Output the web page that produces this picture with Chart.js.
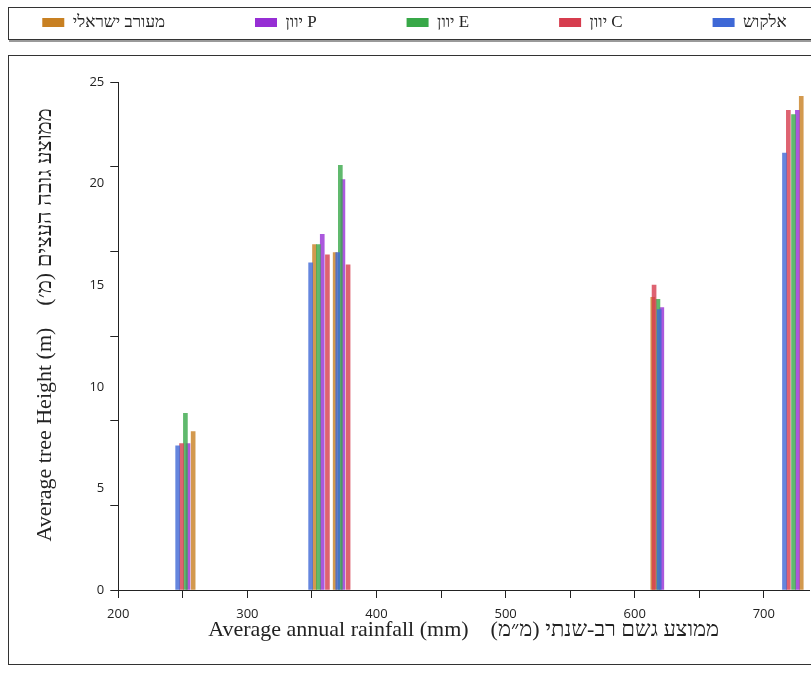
<!DOCTYPE html>
<html>
<head>
<meta charset="utf-8">
<script src="https://cdn.jsdelivr.net/npm/chart.js@4.4.0/dist/chart.umd.min.js"></script>
<style>
    html, body { margin: 0; padding: 0; background: #fff; }
    #wrap { width: 811px; height: 681px; }
</style>
</head>
<body>
<div id="wrap"><canvas id="treeChart" width="811" height="681"></canvas></div>
<script>
// series names, in data order (legend shows them reversed, right to left)
var seriesNames = ["אלקוש", "יוון C", "יוון E", "יוון P", "מעורב ישראלי"];
var seriesColors = ["rgb(62, 104, 214)", "rgb(214, 60, 78)", "rgb(56, 168, 72)", "rgb(150, 46, 212)", "rgb(200, 128, 34)"];

// average annual rainfall (mm) and average tree height (m) per site
var alkoshRain = [246, 349, 370, 619, 716];
var alkoshHeight = [7.1, 16.1, 16.6, 13.8, 21.5];
var greeceCRain = [249, 362, 378, 615, 719];
var greeceCHeight = [7.2, 16.5, 16.0, 15.0, 23.6];
var greeceERain = [252, 355, 372, 618, 723];
var greeceEHeight = [8.7, 17.0, 20.9, 14.3, 23.4];
var greecePRain = [254, 358, 374, 621, 726];
var greecePHeight = [7.2, 17.5, 20.2, 13.9, 23.6];
var mixedRain = [258, 352, 368, 614, 729];
var mixedHeight = [7.8, 17.0, 16.6, 14.4, 24.3];

// axis ticks
var xLabelValues = [200, 300, 400, 500, 600, 700];
var yLabelValues = [0, 5, 10, 15, 20, 25];
var yMarkValues = [0, 25 / 6, 50 / 6, 12.5, 100 / 6, 125 / 6, 25];

var rainSets = [alkoshRain, greeceCRain, greeceERain, greecePRain, mixedRain];
var heightSets = [alkoshHeight, greeceCHeight, greeceEHeight, greecePHeight, mixedHeight];

function near(list, v) {
    return list.some(function (t) { return Math.abs(t - v) < 1e-6; });
}

function withAlpha(rgb, a) {
    return rgb.replace("rgb(", "rgba(").replace(")", ", " + a + ")");
}

var datasets = seriesNames.map(function (name, i) {
    return {
        label: name,
        data: rainSets[i].map(function (x, j) { return { x: x, y: heightSets[i][j] }; }),
        backgroundColor: withAlpha(seriesColors[i], 0.8),
        borderWidth: 0,
        barThickness: 4,
        grouped: false
    };
});

// frames round the legend and the plot, like the printed figure
var frames = {
    id: "frames",
    beforeDraw: function (chart) {
        var ctx = chart.ctx;
        ctx.save();
        ctx.strokeStyle = "#333";
        ctx.lineWidth = 1;
        ctx.strokeRect(8.5, 7.5, 820, 32);
        ctx.fillStyle = "#9a9a9a";
        ctx.fillRect(9, 40, 810, 2);
        ctx.strokeRect(8.5, 55.5, 820, 609);
        ctx.restore();
    }
};

// extra room between legend and plot
var legendSpacer = {
    id: "legendSpacer",
    beforeInit: function (chart) {
        var fit = chart.legend.fit;
        chart.legend.fit = function () {
            fit.call(this);
            this.height += 41;
        };
    }
};

var serif = "'Liberation Serif', 'Times New Roman', serif";
var sans = "'Open Sans', 'Noto Sans', sans-serif";
var legendGap = "\u2003\u2003\u2003\u2003\u2002\u2009";

new Chart(document.getElementById("treeChart"), {
    type: "bar",
    data: { datasets: datasets },
    plugins: [frames, legendSpacer],
    options: {
        responsive: false,
        animation: false,
        devicePixelRatio: 1,
        layout: { padding: { top: 4, left: 20, right: 2, bottom: 34 } },
        plugins: {
            tooltip: { enabled: false },
            legend: {
                position: "top",
                reverse: true,
                labels: {
                    color: "#222",
                    font: { family: serif, size: 17 },
                    boxWidth: 22,
                    boxHeight: 9,
                    padding: 10,
                    generateLabels: function (chart) {
                        var items = Chart.defaults.plugins.legend.labels.generateLabels(chart);
                        items.forEach(function (it) {
                            it.fillStyle = seriesColors[it.datasetIndex];
                            it.lineWidth = 0;
                            if (it.datasetIndex !== 0) it.text += legendGap;
                        });
                        return items;
                    }
                }
            }
        },
        scales: {
            x: {
                type: "linear",
                min: 200,
                max: 735,
                offset: false,
                afterBuildTicks: function (axis) {
                    axis.ticks = axis.ticks.filter(function (t) { return t.value % 50 === 0; });
                },
                ticks: {
                    stepSize: 50,
                    autoSkip: false,
                    maxRotation: 0,
                    padding: 8,
                    color: "#222",
                    font: { family: sans, size: 13 },
                    callback: function (v) { return near(xLabelValues, v) ? String(v) : ""; }
                },
                grid: { offset: false, drawOnChartArea: false, tickLength: 8, tickColor: "#222" },
                border: { color: "#222", width: 1 },
                title: {
                    display: true,
                    text: "Average annual rainfall (mm)\u2003ממוצע גשם רב-שנתי (מ״מ)\u200F",
                    color: "#222",
                    font: { family: serif, size: 22 },
                    padding: { top: -13, bottom: 4 }
                }
            },
            y: {
                min: 0,
                max: 25,
                afterBuildTicks: function (axis) {
                    var vals = yMarkValues.slice();
                    yLabelValues.forEach(function (v) { if (!near(vals, v)) vals.push(v); });
                    vals.sort(function (a, b) { return a - b; });
                    axis.ticks = vals.map(function (v) { return { value: v }; });
                },
                ticks: {
                    autoSkip: false,
                    padding: 6,
                    color: "#222",
                    font: { family: sans, size: 13 },
                    callback: function (v) { return near(yLabelValues, v) ? String(Math.round(v)) : ""; }
                },
                grid: {
                    drawOnChartArea: false,
                    tickLength: 8,
                    tickColor: function (c) {
                        return c.tick && near(yMarkValues, c.tick.value) ? "#222" : "rgba(0,0,0,0)";
                    }
                },
                border: { color: "#222", width: 1 },
                title: {
                    display: true,
                    text: "\u2003Average tree Height (m)\u2003ממוצע גובה העצים (מ׳)\u200F",
                    color: "#222",
                    font: { family: serif, size: 22 },
                    padding: { top: 12, bottom: 25 }
                }
            }
        }
    }
});
</script>
</body>
</html>
